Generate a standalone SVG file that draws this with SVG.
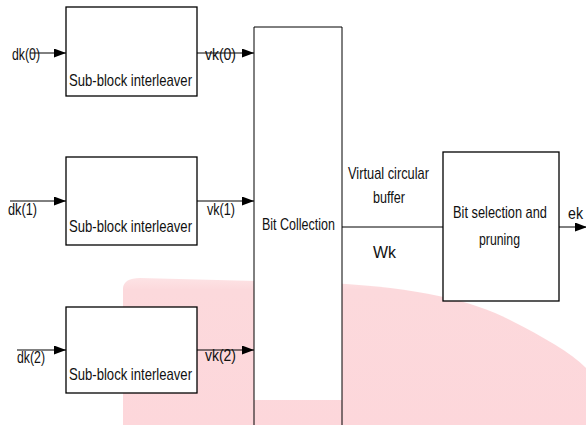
<svg xmlns="http://www.w3.org/2000/svg" width="586" height="425" viewBox="0 0 586 425">
<style>
.box{fill:#fff;stroke:#000;stroke-width:1.3}
.ln{fill:none;stroke:#000;stroke-width:1}
text{font-family:"Liberation Sans Narrow","Liberation Sans",Arial,sans-serif;font-size:17px;fill:#111}
</style>
<defs>
<marker id="ah" markerUnits="userSpaceOnUse" markerWidth="13" markerHeight="10" refX="12" refY="4.5" orient="auto">
<path d="M0,0 L12,4.5 L0,9 Z" fill="#000"/>
</marker>
<linearGradient id="pg" x1="0" y1="0" x2="0" y2="1">
<stop offset="0" stop-color="#fde3e5"/>
<stop offset="0.08" stop-color="#fcd9dc"/>
<stop offset="1" stop-color="#fdd7db"/>
</linearGradient>
</defs>
<path id="watermark" d="M123,288 Q124,278 140,278 L330,283 C420,288 470,300 510,320 C545,338 570,352 586,368 L586,425 L123,425 Z" fill="url(#pg)"/>
<g id="n-bitcollection">
<rect x="254" y="27" width="88" height="373" fill="#fff"/>
<path d="M254,27 H342 M254,27 V425 M342,27 V425" class="ln" stroke-width="1.3"/>
<text x="262" y="230" textLength="73" lengthAdjust="spacingAndGlyphs">Bit Collection</text>
</g>
<g id="n-sbi0">
<rect class="box" x="66" y="7" width="131" height="89"/>
<text x="69" y="86" textLength="123" lengthAdjust="spacingAndGlyphs">Sub-block interleaver</text>
</g>
<g id="n-sbi1">
<rect class="box" x="66" y="157" width="131" height="88"/>
<text x="69" y="232" textLength="123" lengthAdjust="spacingAndGlyphs">Sub-block interleaver</text>
</g>
<g id="n-sbi2">
<rect class="box" x="66" y="307" width="131" height="86"/>
<text x="69" y="380" textLength="123" lengthAdjust="spacingAndGlyphs">Sub-block interleaver</text>
</g>
<g id="n-bitsel">
<rect class="box" x="443" y="152" width="116" height="149"/>
<text x="453" y="218" textLength="94" lengthAdjust="spacingAndGlyphs">Bit selection and</text>
<text x="479" y="245" textLength="41" lengthAdjust="spacingAndGlyphs">pruning</text>
</g>
<g id="connectors">
<line class="ln" x1="30" y1="53" x2="66" y2="53" marker-end="url(#ah)"/>
<line class="ln" x1="10" y1="201" x2="66" y2="201" marker-end="url(#ah)"/>
<line class="ln" x1="17" y1="350" x2="66" y2="350" marker-end="url(#ah)"/>
<line class="ln" x1="197" y1="53" x2="254" y2="53" marker-end="url(#ah)"/>
<line class="ln" x1="197" y1="201" x2="254" y2="201" marker-end="url(#ah)"/>
<line class="ln" x1="197" y1="350" x2="254" y2="350" marker-end="url(#ah)"/>
<line class="ln" x1="342" y1="227" x2="443" y2="227"/>
<line class="ln" x1="559" y1="227" x2="587" y2="227" marker-end="url(#ah)"/>
</g>
<g id="labels">
<text x="12" y="60" textLength="28" lengthAdjust="spacingAndGlyphs">dk(0)</text>
<text x="8" y="215" textLength="29" lengthAdjust="spacingAndGlyphs">dk(1)</text>
<text x="17" y="363" textLength="28" lengthAdjust="spacingAndGlyphs">dk(2)</text>
<text x="205" y="60" textLength="31" lengthAdjust="spacingAndGlyphs">vk(0)</text>
<text x="207" y="215" textLength="28" lengthAdjust="spacingAndGlyphs">vk(1)</text>
<text x="205" y="361" textLength="31" lengthAdjust="spacingAndGlyphs">vk(2)</text>
<text x="348" y="179" textLength="81" lengthAdjust="spacingAndGlyphs">Virtual circular</text>
<text x="373" y="203" textLength="32" lengthAdjust="spacingAndGlyphs">buffer</text>
<text x="373" y="258" textLength="23" lengthAdjust="spacingAndGlyphs">Wk</text>
<text x="568" y="219" font-size="16" textLength="15" lengthAdjust="spacingAndGlyphs">ek</text>
</g>
</svg>
